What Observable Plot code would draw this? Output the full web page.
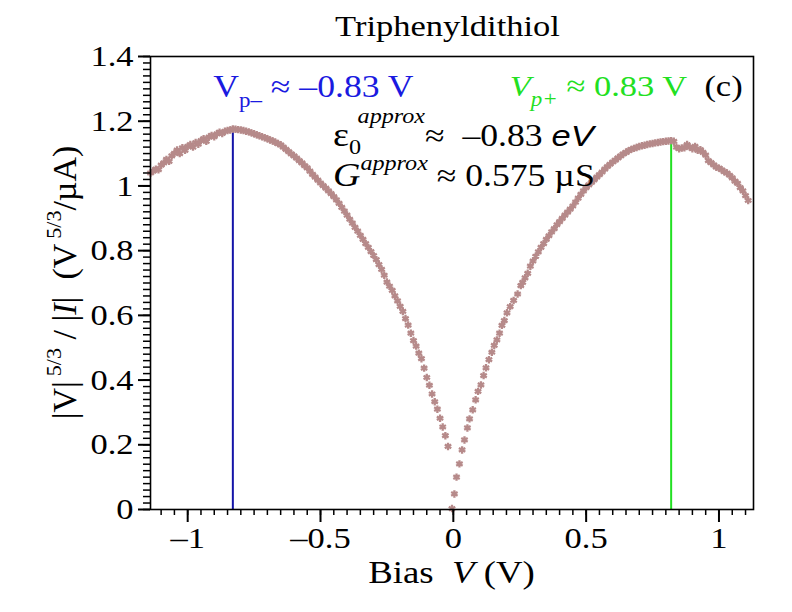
<!DOCTYPE html>
<html><head><meta charset="utf-8">
<script src="https://cdn.jsdelivr.net/npm/d3@7"></script>
<script src="https://cdn.jsdelivr.net/npm/@observablehq/plot@0.6"></script>
<style>body{margin:0;background:#fff;} svg{display:block;}</style>
</head><body><div id="chart"></div>
<script>
// ---------- data ----------
const biasV = [
 -1.14,-1.13,-1.12,-1.11,-1.10,-1.09,-1.08,-1.07,-1.06,-1.05,-1.04,-1.03,-1.02,-1.01,-1.00,
 -0.99,-0.98,-0.97,-0.96,-0.95,-0.94,-0.93,-0.92,-0.91,-0.90,-0.89,-0.88,-0.87,-0.86,-0.85,
 -0.84,-0.83,-0.82,-0.81,-0.80,-0.79,-0.78,-0.77,-0.76,-0.75,-0.74,-0.73,-0.72,-0.71,-0.70,
 -0.69,-0.68,-0.67,-0.66,-0.65,-0.64,-0.63,-0.62,-0.61,-0.60,-0.59,-0.58,-0.57,-0.56,-0.55,
 -0.54,-0.53,-0.52,-0.51,-0.50,-0.49,-0.48,-0.47,-0.46,-0.45,-0.44,-0.43,-0.42,-0.41,-0.40,
 -0.39,-0.38,-0.37,-0.36,-0.35,-0.34,-0.33,-0.32,-0.31,-0.30,-0.29,-0.28,-0.27,-0.26,-0.25,
 -0.24,-0.23,-0.22,-0.21,-0.20,-0.19,-0.18,-0.17,-0.16,-0.15,-0.14,-0.13,-0.12,-0.11,-0.10,
 -0.09,-0.08,-0.07,-0.06,-0.05,-0.04,-0.03,-0.02,-0.005,
 0.004,0.012,0.023,0.033,0.042,0.053,0.061,0.073,0.084,0.093,0.104,0.114,0.123,0.134,0.145,
 0.154,0.164,0.174,0.183,0.192,0.202,0.214,0.227,0.242,0.254,0.261,
 0.27,0.28,0.29,0.30,0.31,0.32,0.33,0.34,0.35,0.36,0.37,0.38,0.39,0.40,0.41,0.42,0.43,0.44,
 0.45,0.46,0.47,0.48,0.49,0.50,0.51,0.52,0.53,0.54,0.55,0.56,0.57,0.58,0.59,0.60,0.61,0.62,
 0.63,0.64,0.65,0.66,0.67,0.68,0.69,0.70,0.71,0.72,0.73,0.74,0.75,0.76,0.77,0.78,0.79,0.80,
 0.81,0.82,0.83,0.84,0.85,0.86,0.87,0.88,0.89,0.90,0.91,0.92,0.93,0.94,0.95,0.96,0.97,0.98,
 0.99,1.00,1.01,1.02,1.03,1.04,1.05,1.06,1.07,1.08,1.09,1.10,1.11
];
const ratioY = [
 1.040,1.046,1.052,1.050,1.064,1.071,1.082,1.076,1.093,1.101,1.111,1.100,1.118,1.110,1.122,
 1.128,1.120,1.134,1.129,1.140,1.146,1.138,1.151,1.156,1.152,1.161,1.166,1.162,1.169,1.171,
 1.173,1.176,1.175,1.174,1.173,1.171,1.169,1.167,1.164,1.161,1.158,1.155,1.152,1.149,1.146,
 1.142,1.139,1.135,1.131,1.127,1.120,1.113,1.106,1.099,1.093,1.086,1.078,1.071,1.063,1.056,
 1.046,1.036,1.027,1.018,1.009,1.001,0.993,0.985,0.976,0.967,0.957,0.946,0.934,0.922,0.910,
 0.897,0.885,0.872,0.860,0.847,0.835,0.822,0.810,0.797,0.785,0.772,0.757,0.742,0.724,0.703,
 0.690,0.677,0.660,0.645,0.628,0.612,0.590,0.570,0.545,0.522,0.505,0.483,0.466,0.437,0.408,
 0.384,0.357,0.333,0.310,0.282,0.255,0.228,0.195,0.003,
 0.048,0.100,0.141,0.184,0.215,0.252,0.280,0.308,0.339,0.365,0.385,0.414,0.438,0.463,0.486,
 0.507,0.524,0.545,0.569,0.584,0.608,0.627,0.646,0.666,0.692,0.702,
 0.716,0.730,0.752,0.768,0.782,0.796,0.810,0.822,0.835,0.846,0.858,0.868,0.880,0.890,0.900,0.910,0.919,0.928,
 0.938,0.950,0.962,0.974,0.985,0.995,1.003,1.011,1.019,1.027,1.035,1.043,1.052,1.060,1.067,1.074,1.080,1.087,
 1.093,1.099,1.104,1.109,1.113,1.116,1.119,1.122,1.124,1.126,1.128,1.130,1.131,1.133,1.134,1.136,1.137,1.138,
 1.139,1.140,1.138,1.120,1.115,1.117,1.118,1.128,1.120,1.115,1.122,1.110,1.112,1.104,1.095,1.078,1.072,1.065,
 1.058,1.055,1.050,1.044,1.040,1.033,1.025,1.015,1.008,0.995,0.985,0.970,0.955
];
const peakV = [-0.83, 0.82];
const peakTop = [1.176, 1.141];
const peakColors = ["#1414a8", "#22e022"];
const xTicks = [-1, -0.5, 0, 0.5, 1];
const xTickLabels = ["–1", "–0.5", "0", "0.5", "1"];
const yTicks = [0, 0.2, 0.4, 0.6, 0.8, 1, 1.2, 1.4];
const yTickLabels = ["0", "0.2", "0.4", "0.6", "0.8", "1", "1.2", "1.4"];
const titleText = "Triphenyldithiol";

// ---------- build ----------
const STRETCH = 1.15;
const SERIF = "'Liberation Serif', 'Times New Roman', serif";
const SANS = "'Liberation Sans', Arial, sans-serif";
const data = biasV.map((v, i) => ({v, y: ratioY[i]}));
const peaks = peakV.map((v, i) => ({v, top: peakTop[i], c: peakColors[i]}));
const xMinor = d3.range(-22, 23).map(i => +(i * 0.05).toFixed(2));
const yMinor = d3.range(0, 71).map(i => +(i * 0.02).toFixed(2));

const W = 792, H = 612, ML = 150, MR = 39, MT = 56, MB = 103;
const plot = Plot.plot({
  width: W, height: H,
  marginLeft: ML, marginRight: MR, marginTop: MT, marginBottom: MB,
  style: {fontFamily: SERIF, background: "#fff", color: "#000", overflow: "visible"},
  x: {domain: [-1.14, 1.13], label: null},
  y: {domain: [0, 1.4], label: null},
  color: {type: "identity"},
  marks: [
    Plot.ruleX(peaks, {x: "v", y1: 0, y2: "top", stroke: "c", strokeWidth: 2}),
    Plot.dot(data, {x: "v", y: "y", symbol: "asterisk", r: 3.5, stroke: "#b68a8a", strokeWidth: 2.3}),
    Plot.axisX(xMinor, {anchor: "bottom", tickSize: 6, text: null, strokeWidth: 1.5, label: null}),
    Plot.axisX(xTicks, {anchor: "bottom", tickSize: 13, tickPadding: 4, strokeWidth: 2,
      tickFormat: d => xTickLabels[xTicks.indexOf(d)], fontSize: 30, label: null}),
    Plot.axisY(yMinor, {anchor: "left", tickSize: 7, text: null, strokeWidth: 1.5, label: null}),
    Plot.axisY(yTicks, {anchor: "left", tickSize: 12, tickPadding: 5, strokeWidth: 2,
      tickFormat: d => yTickLabels[yTicks.indexOf(d)], fontSize: 30, label: null}),
    Plot.frame({strokeWidth: 1.6})
  ]
});

// stretch tick labels horizontally like the reference
d3.select(plot).selectAll("g[aria-label$='tick label'] text").each(function () {
  const t = this.getAttribute("transform");
  if (t) this.setAttribute("transform", t + ` scale(${STRETCH},1)`);
  else {
    const x = +this.getAttribute("x") || 0, y = +this.getAttribute("y") || 0;
    this.removeAttribute("x"); this.removeAttribute("y");
    this.setAttribute("transform", `translate(${x},${y}) scale(${STRETCH},1)`);
  }
});

const sx = plot.scale("x"), sy = plot.scale("y");
const svg = d3.select(plot);

function addParts(t, parts) {
  for (const p of parts) {
    const s = t.append("tspan").text(p.t).attr("font-size", p.fs);
    if (p.dy) s.attr("dy", p.dy);
    if (p.dx) s.attr("dx", p.dx);
    if (p.it) s.attr("font-style", "italic");
    if (p.ff) s.attr("font-family", p.ff);
    if (p.fill) s.attr("fill", p.fill);
  }
}
function rich(px, py, parts, opts = {}) {
  const g = svg.append("g").attr("transform", `translate(${px},${py}) scale(${STRETCH},1)`);
  const t = g.append("text")
    .attr("font-family", SERIF)
    .attr("text-anchor", opts.anchor || "start")
    .attr("fill", opts.fill || "#000")
    .style("white-space", "pre");
  addParts(t, parts);
  return g;
}

// title
rich((ML + W - MR) / 2 - 4, 36, [{t: titleText, fs: 30}], {anchor: "middle"});

// x axis label
rich((ML + W - MR) / 2, 583, [
  {t: "Bias  ", fs: 32}, {t: "V", fs: 32, it: true}, {t: " (V)", fs: 32}
], {anchor: "middle"});

// y axis label (rotated)
svg.append("g").attr("transform", `translate(76,${(MT + H - MB) / 2}) rotate(-90)`)
  .call(g => {
    const t = g.append("text").attr("font-family", SERIF).attr("text-anchor", "middle").style("white-space", "pre");
    addParts(t, [
      {t: "|V|", fs: 34}, {t: "5/3", fs: 22, dy: -15, dx: 5}, {t: " / |", fs: 34, dy: 15},
      {t: "I", fs: 34, it: true}, {t: "|  (V", fs: 34}, {t: "5/3", fs: 22, dy: -15, dx: 5},
      {t: "/µA)", fs: 34, dy: 15}
    ]);
  });

// annotations (anchored in data coordinates)
const blue = "#1a1ae0", green = "#22e022";
rich(sx.apply(-0.902), sy.apply(1.272), [
  {t: "V", fs: 31}, {t: "p–", fs: 20, dy: 10}, {t: " ≈ –0.83 V", fs: 31, dy: -10}
], {fill: blue});
rich(sx.apply(0.214), sy.apply(1.275), [
  {t: "V", fs: 30, it: true}, {t: "p+", fs: 20, dy: 10, it: true}, {t: " ≈ 0.83 V", fs: 30, dy: -10}
], {fill: green});
rich(sx.apply(0.947), sy.apply(1.275), [{t: "(c)", fs: 30}]);
rich(sx.apply(-0.451), sy.apply(1.122), [
  {t: "ε", fs: 33}, {t: "0", fs: 21, dy: 8}, {t: "approx", fs: 21, it: true, dy: -31, dx: -3},
  {t: "≈  –0.83 ", fs: 31, dy: 23}, {t: "eV", fs: 30, it: true, ff: SANS}
]);
rich(sx.apply(-0.451), sy.apply(0.998), [
  {t: "G", fs: 33, it: true}, {t: "approx", fs: 21, it: true, dy: -16},
  {t: " ≈ 0.575 µS", fs: 31, dy: 16}
]);

document.getElementById("chart").appendChild(plot);
</script>
</body></html>
